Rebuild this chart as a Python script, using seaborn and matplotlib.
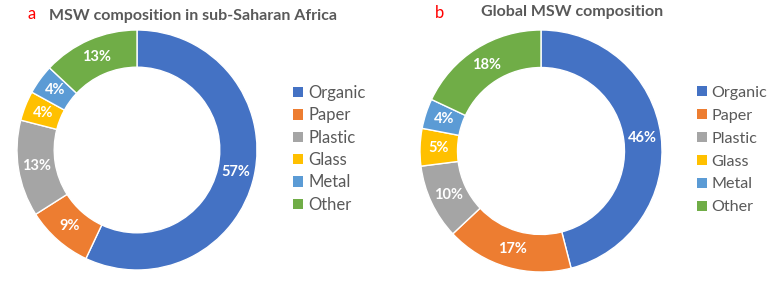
import matplotlib.pyplot as plt
import seaborn as sns
from matplotlib.patches import Patch

categories = ['Organic', 'Paper', 'Plastic', 'Glass', 'Metal', 'Other']
ssa_values = [57, 9, 13, 4, 4, 13]
global_values = [46, 17, 10, 5, 4, 18]
colors = ['#4472C4', '#ED7D31', '#A5A5A5', '#FFC000', '#5B9BD5', '#70AD47']

sns.set_theme(style='white')
plt.rcParams['font.family'] = ['Lato', 'DejaVu Sans']

W, H = 767, 283
fig = plt.figure(figsize=(W / 100, H / 100), dpi=100)


def px_axes(x, y, w, h):
    return fig.add_axes([x / W, 1 - (y + h) / H, w / W, h / H])


def donut(ax, values):
    wedges, texts, autotexts = ax.pie(
        values, colors=colors, startangle=90, counterclock=False,
        autopct='%d%%', pctdistance=0.845,
        wedgeprops=dict(width=0.31, edgecolor='white', linewidth=1),
        textprops=dict(color='white', fontweight='bold', fontsize=10.5))
    ax.set_xlim(-1, 1)
    ax.set_ylim(-1, 1)
    ax.set_aspect('equal')
    ax.axis('off')
    return wedges


ax1 = px_axes(17, 30, 240, 240)
donut(ax1, ssa_values)
ax2 = px_axes(420, 30, 242, 242)
donut(ax2, global_values)

handles = [Patch(facecolor=c, edgecolor='none') for c in colors]
for lx, ly, fs, sp in ((293, 85, 12, 0.38), (697, 86, 11.6, 0.55)):
    fig.legend(handles, categories, loc='upper left',
               bbox_to_anchor=(lx / W, 1 - ly / H), frameon=False,
               borderpad=0, borderaxespad=0,
               fontsize=fs, handlelength=0.6, handleheight=0.6,
               handletextpad=0.3, labelspacing=sp, labelcolor='#595959')

fig.text(28 / W, 1 - 14 / H, 'a', color='red', fontsize=12, va='center')
fig.text(193 / W, 1 - 16 / H, 'MSW composition in sub-Saharan Africa',
         color='#595959', fontsize=11.5, fontweight='bold', ha='center', va='center')
fig.text(435 / W, 1 - 13 / H, 'b', color='red', fontsize=12, va='center')
fig.text(572 / W, 1 - 12 / H, 'Global MSW composition',
         color='#595959', fontsize=11.5, fontweight='bold', ha='center', va='center')

fig.savefig('out.png', dpi=100)
